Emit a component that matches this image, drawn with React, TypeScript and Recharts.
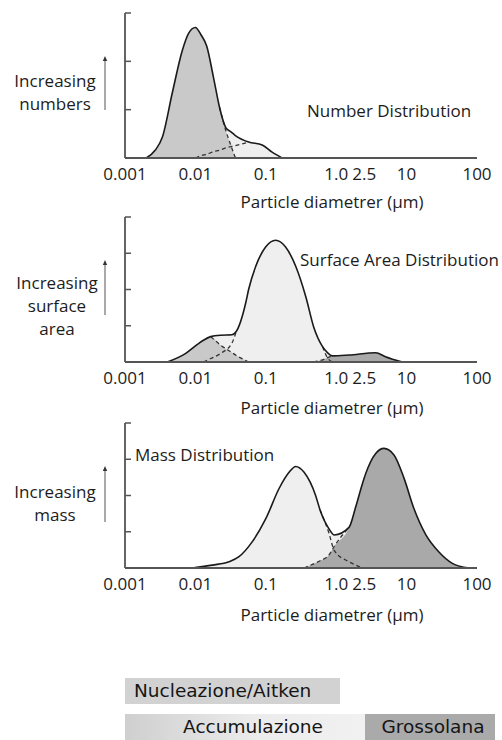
import { ComposedChart, Area, Line, XAxis, YAxis, Label } from 'recharts';

const N = null;

// x axis (particle diameter, µm) – log scale
const diameterTicks = [0.001, 0.01, 0.1, 1, 2.5, 10, 100];

// Number distribution
const x1 = [0.002, 0.0027, 0.0034, 0.0047, 0.0065, 0.008, 0.01, 0.012, 0.0145, 0.018, 0.022, 0.027, 0.032, 0.037, 0.057, 0.089, 0.123, 0.17];
const total1 = [0, 5.5, 14.5, 45, 74, 86, 90, 85, 77, 56, 35, 21, 18, 15.5, 11, 9, 4, 0];
const nucl1 = [0, 5.5, 14.5, 45, 74, 86, 90, 85, 77, 56, 35, 19, 8.5, 0, N, N, N, N];
const nuclDash1 = [N, N, N, N, N, N, N, N, N, N, 35, 19, 8.5, 0, N, N, N, N];
const aitkDash1 = [N, N, N, N, N, N, 0, 1.6, 2.6, 4.3, 5.4, 7, 7.9, 8.6, 11, N, N, N];

// Surface area distribution
const x2 = [0.004, 0.0073, 0.0112, 0.013, 0.0165, 0.023, 0.033, 0.038, 0.052, 0.057, 0.072, 0.1, 0.138, 0.19, 0.266, 0.37, 0.48, 0.64, 0.75, 0.88, 1.52, 3.64, 5.0, 8.7];
const total2 = [0, 6, 12.9, 15, 17.5, 18.5, 18.8, 21, 41, 50, 66, 79.5, 84, 79.5, 66, 45, 24, 10.6, 6.5, 4.2, 4.8, 6.4, 3.7, 0];
const nucl2 = [0, 6, 12.9, 15, 17.5, 11.5, 6.5, 4.5, 1, 0, N, N, N, N, N, N, N, N, N, N, N, N, N, N];
const nuclDash2 = [N, N, N, N, 17.5, 11.5, 6.5, 4.5, 1, 0, N, N, N, N, N, N, N, N, N, N, N, N, N, N];
const accDash2 = [N, N, N, 0, 2.4, 6, 13, 21, N, N, N, N, N, N, N, N, N, 10.6, 3, 0, N, N, N, N];
const coarse2 = [N, N, N, N, N, N, N, N, N, N, N, N, N, N, N, N, 0, 1.5, 3, 4.2, 4.8, 6.4, 3.7, 0];
const coarseDash2 = [N, N, N, N, N, N, N, N, N, N, N, N, N, N, N, N, 0, 1.5, 3, 4.2, N, N, N, N];

// Mass distribution
const x3 = [0.009, 0.0174, 0.03, 0.0416, 0.064, 0.1, 0.155, 0.214, 0.266, 0.35, 0.51, 0.59, 0.79, 0.94, 1.52, 1.89, 2.35, 2.62, 3.64, 4.77, 6.62, 9.18, 12.7, 18.7, 28.8, 44.6, 77];
const total3 = [0, 2, 4.3, 7.8, 18, 34, 55, 66, 70, 66, 50, 40, 27, 22.8, 28, 42, 58, 65, 79, 82.5, 78, 62, 41, 23, 11, 3.2, 0];
const coarse3 = [N, N, N, N, N, N, N, N, N, 0, 3.5, 5, 9, 15, 28, 42, 58, 65, 79, 82.5, 78, 62, 41, 23, 11, 3.2, 0];
const coarseDash3 = [N, N, N, N, N, N, N, N, N, 0, 3.5, 5, 9, 15, 28, N, N, N, N, N, N, N, N, N, N, N, N];
const accDash3 = [N, N, N, N, N, N, N, N, N, N, N, 40, 24, 12, 4.3, 2, 0, N, N, N, N, N, N, N, N, N, N];

const LIGHT = '#efefef';
const NUCL = '#c9c9c9';
const COARSE = '#a9a9a9';
const INK = '#1a1a1a';
const AXIS = '#555';

type Fill = { key: string; color: string };

interface PanelProps {
  top: number;
  data: Record<string, number | null>[];
  yTicks: number[];
  fills: Fill[];
  dashes: string[];
  labelOffset: number;
}

// short tick pointing into the plot, like the original drawing
function InwardTick(props: { x?: number; y?: number }) {
  const { x = 0, y = 0 } = props;
  return <line x1={x} x2={x + 6} y1={y} y2={y} stroke={AXIS} strokeWidth={1.5} />;
}

function Panel({ top, data, yTicks, fills, dashes, labelOffset }: PanelProps) {
  return (
    <div style={{ position: 'absolute', left: 0, top }}>
      <ComposedChart width={502} height={215} data={data} margin={{ top: 13, right: 25, left: 0, bottom: 0 }}>
        <XAxis
          dataKey="x"
          type="number"
          scale="log"
          domain={[0.001, 100]}
          allowDataOverflow
          ticks={diameterTicks}
          interval={0}
          tickFormatter={(v: number) => (v === 1 ? '1.0' : String(v))}
          tick={{ fontSize: 17, fill: '#1c1c1c' }}
          tickLine={false}
          tickSize={8}
          tickMargin={2}
          height={57}
          stroke={AXIS}
          strokeWidth={1.8}
        >
          <Label
            value="Particle diametrer (μm)"
            position="insideBottom"
            offset={labelOffset}
            dx={31}
            fill="#1c1c1c"
            fontSize={17}
          />
        </XAxis>
        <YAxis
          type="number"
          domain={[0, 100]}
          ticks={yTicks}
          interval={0}
          width={125}
          tick={<InwardTick />}
          tickLine={false}
          tickSize={0}
          tickMargin={0}
          stroke={AXIS}
          strokeWidth={1.8}
        />
        <Area type="monotone" dataKey="total" stroke="none" fill={LIGHT} fillOpacity={1} isAnimationActive={false} />
        {fills.map((f) => (
          <Area
            key={f.key}
            type="monotone"
            dataKey={f.key}
            stroke="none"
            fill={f.color}
            fillOpacity={1}
            isAnimationActive={false}
          />
        ))}
        {dashes.map((k) => (
          <Line
            key={k}
            type="monotone"
            dataKey={k}
            stroke="#333"
            strokeWidth={1.3}
            strokeDasharray="4 3"
            dot={false}
            activeDot={false}
            isAnimationActive={false}
          />
        ))}
        <Line
          type="monotone"
          dataKey="total"
          stroke={INK}
          strokeWidth={1.6}
          dot={false}
          activeDot={false}
          isAnimationActive={false}
        />
      </ComposedChart>
    </div>
  );
}

function UpArrow({ top, bottom }: { top: number; bottom: number }) {
  return (
    <svg style={{ position: 'absolute', left: 100, top: top - 2, overflow: 'visible' }} width={10} height={bottom - top + 2}>
      <line x1={5} x2={5} y1={3} y2={bottom - top + 2} stroke="#555" strokeWidth={1} />
      <path d="M5 0 L7.2 5 L2.8 5 Z" fill="#333" />
    </svg>
  );
}

const text = (style: React.CSSProperties, children: React.ReactNode) => (
  <div style={{ position: 'absolute', fontSize: 17, color: '#1c1c1c', whiteSpace: 'nowrap', ...style }}>{children}</div>
);

const boxStyle: React.CSSProperties = {
  position: 'absolute',
  height: 26,
  fontFamily: "'DejaVu Sans', sans-serif",
  fontSize: 18.5,
  lineHeight: '26px',
  color: '#151515',
  boxSizing: 'border-box',
  whiteSpace: 'nowrap',
};

export default function App() {
  const data1 = x1.map((x, i) => ({ x, total: total1[i], nucl: nucl1[i], nuclDash: nuclDash1[i], aitkDash: aitkDash1[i] }));
  const data2 = x2.map((x, i) => ({
    x,
    total: total2[i],
    nucl: nucl2[i],
    nuclDash: nuclDash2[i],
    accDash: accDash2[i],
    coarse: coarse2[i],
    coarseDash: coarseDash2[i],
  }));
  const data3 = x3.map((x, i) => ({ x, total: total3[i], coarse: coarse3[i], coarseDash: coarseDash3[i], accDash: accDash3[i] }));

  const ticks3 = [0, 100 / 3, 200 / 3, 100];
  const ticks4 = [0, 25, 50, 75, 100];

  return (
    <div
      style={{
        position: 'absolute',
        left: 0,
        top: 0,
        width: 502,
        height: 740,
        background: '#fff',
        overflow: 'hidden',
        fontFamily: "'Open Sans', sans-serif",
      }}
    >
      <Panel top={0} data={data1} yTicks={ticks3} fills={[{ key: 'nucl', color: NUCL }]} dashes={['nuclDash', 'aitkDash']} labelOffset={7} />
      <Panel
        top={204}
        data={data2}
        yTicks={ticks4}
        fills={[
          { key: 'nucl', color: NUCL },
          { key: 'coarse', color: COARSE },
        ]}
        dashes={['nuclDash', 'accDash', 'coarseDash']}
        labelOffset={5}
      />
      <Panel top={410} data={data3} yTicks={ticks4} fills={[{ key: 'coarse', color: COARSE }]} dashes={['coarseDash', 'accDash']} labelOffset={4} />

      {text({ left: 0, top: 69, width: 110, textAlign: 'center', lineHeight: '23px' }, <>Increasing<br />numbers</>)}
      {text({ left: 2, top: 271, width: 110, textAlign: 'center', lineHeight: '23px' }, <>Increasing<br />surface<br />area</>)}
      {text({ left: 0, top: 480, width: 110, textAlign: 'center', lineHeight: '23px' }, <>Increasing<br />mass</>)}

      <UpArrow top={58} bottom={110} />
      <UpArrow top={262} bottom={315} />
      <UpArrow top={468} bottom={522} />

      {text({ left: 307, top: 101, lineHeight: '20px' }, 'Number Distribution')}
      {text({ left: 300, top: 250, lineHeight: '20px' }, 'Surface Area Distribution')}
      {text({ left: 135, top: 445, lineHeight: '20px' }, 'Mass Distribution')}

      <div style={{ ...boxStyle, left: 125, top: 678, width: 215, background: '#d2d2d2', paddingLeft: 9 }}>
        Nucleazione/Aitken
      </div>
      <div
        style={{
          ...boxStyle,
          left: 125,
          top: 714,
          width: 240,
          background: 'linear-gradient(to right, #cfcfcf 0%, #ececec 55%, #f1f1f1 100%)',
          textAlign: 'center',
          paddingLeft: 16,
        }}
      >
        Accumulazione
      </div>
      <div style={{ ...boxStyle, left: 365, top: 714, width: 130, background: '#aaaaaa', textAlign: 'center', paddingLeft: 6 }}>
        Grossolana
      </div>
    </div>
  );
}
